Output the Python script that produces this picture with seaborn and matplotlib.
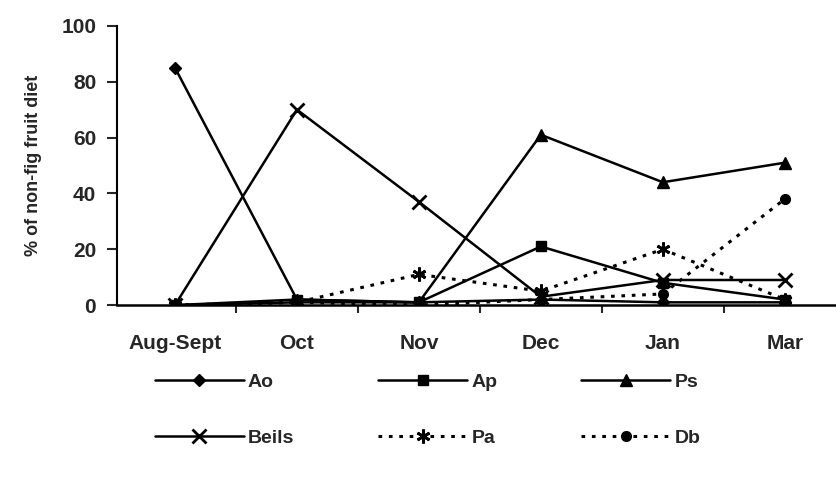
import pandas as pd
import seaborn as sns
import matplotlib.pyplot as plt

# months on the x axis
months = ["Aug-Sept", "Oct", "Nov", "Dec", "Jan", "Mar"]

# % of non-fig fruit diet per species
ao = [85, 2, 1, 2, 1, 1]
ap = [0, 2, 1, 21, 8, 2]
ps = [0, 1, 1, 61, 44, 51]
beils = [0, 70, 37, 3, 9, 9]
pa = [0, 1, 11, 5, 20, 2]
db = [0, 1, 0, 2, 4, 38]

names = ["Ao", "Ap", "Ps", "Beils", "Pa", "Db"]
values = [ao, ap, ps, beils, pa, db]

sns.set_style("white")
plt.rcParams['font.family'] = ['Liberation Sans', 'DejaVu Sans']
plt.rcParams['font.weight'] = 'bold'

fig = plt.figure(figsize=(8.36, 4.79), dpi=100)
ax = fig.add_axes([0.14, 0.363, 0.86, 0.583])

styles = {
    "Ao": dict(marker="D", ms=6, ls="-"),
    "Ap": dict(marker="s", ms=7, ls="-"),
    "Ps": dict(marker="^", ms=9, ls="-"),
    "Beils": dict(marker="x", ms=10, mew=2, ls="-"),
    "Pa": dict(marker=(6, 2, 0), ms=10, mew=2, ls=(0, (1.2, 2.2))),
    "Db": dict(marker="o", ms=7, ls=(0, (1.2, 2.2))),
}

lines = {}
for name, vals in zip(names, values):
    df = pd.DataFrame({"x": range(len(months)), "y": vals})
    st = styles[name]
    sns.lineplot(data=df, x="x", y="y", ax=ax, color="black",
                 lw=2.2 if st["ls"] != "-" else 1.8, label=name,
                 linestyle=st["ls"], marker=st["marker"], ms=st["ms"],
                 mew=st.get("mew", 1), mec="black", mfc="black")
    lines[name] = ax.get_lines()[-1]

ax.get_legend().remove()

ax.set_xlim(-0.475, 5.42)
ax.set_ylim(0, 100)
ax.set_xticks(range(len(months)))
ax.set_xticklabels(months, fontsize=15, fontweight="bold")
ax.xaxis.set_minor_locator(plt.FixedLocator([0.5, 1.5, 2.5, 3.5, 4.5]))
ax.tick_params(axis="x", which="major", length=0, pad=21)
ax.tick_params(axis="x", which="minor", length=6, width=1.5, direction="out", bottom=True)
ax.set_yticks(range(0, 101, 20))
ax.tick_params(axis="y", length=7, width=1.5, direction="out", pad=8, labelsize=15, left=True)
for lab in ax.get_yticklabels():
    lab.set_fontweight("bold")

ax.set_xlabel("")
ax.set_ylabel("% of non-fig fruit diet", fontsize=13, fontweight="bold", labelpad=14)

sns.despine(ax=ax)
ax.spines["left"].set_linewidth(1.5)
ax.spines["bottom"].set_linewidth(1.8)
ax.spines["left"].set_color("black")
ax.spines["bottom"].set_color("black")

order = ["Ao", "Beils", "Ap", "Pa", "Ps", "Db"]
fig.legend([lines[n] for n in order], order, loc="upper left",
           bbox_to_anchor=(0.185, 0.22), ncol=3, frameon=False,
           fontsize=14, handlelength=4.6, handletextpad=0.2,
           columnspacing=4.3, labelspacing=1.95, borderpad=0,
           borderaxespad=0, numpoints=1)

fig.savefig("out.png", dpi=100)
